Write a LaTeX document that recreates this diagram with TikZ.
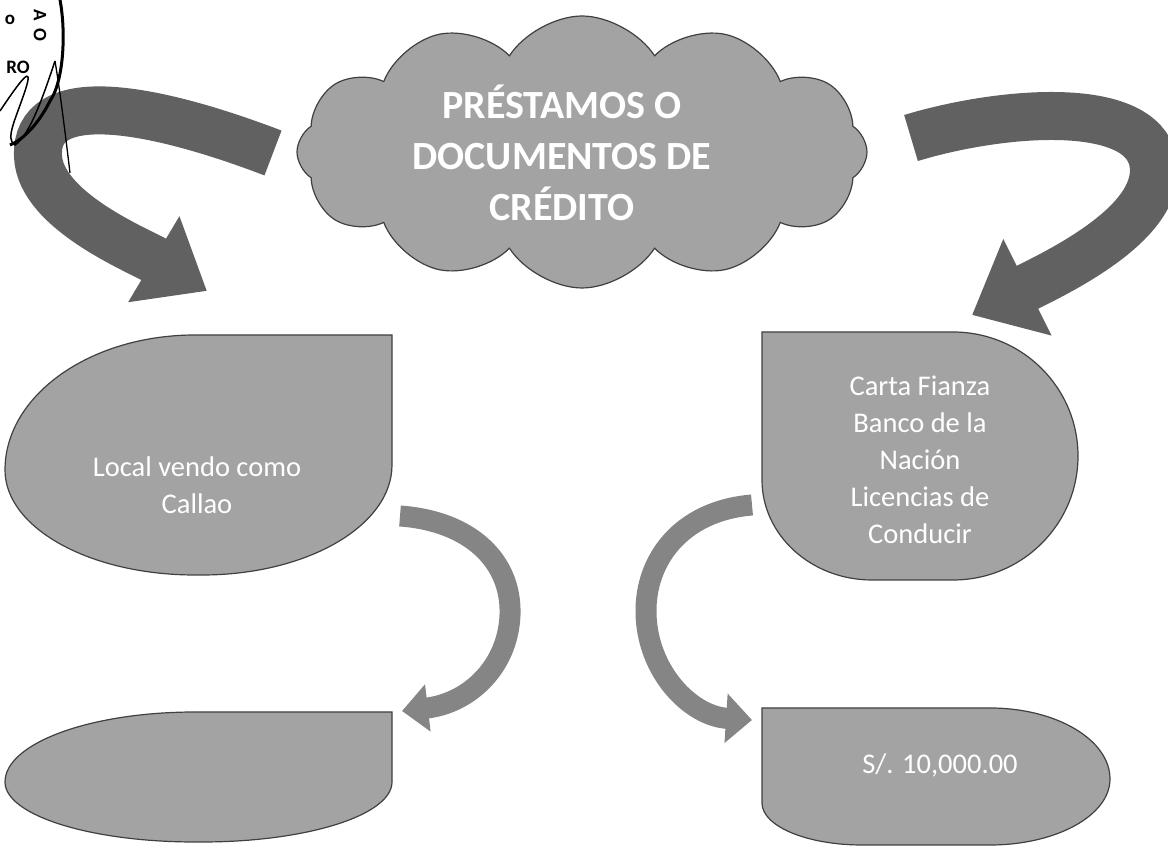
\documentclass[tikz,border=0pt]{standalone}
\usepackage{fontspec}
\setmainfont{Carlito}
\usetikzlibrary{shapes.symbols,arrows.meta}
\tikzset{
  shapebox/.style={fill=black!36, draw=black!75, line width=1.2pt},
  bigarrow/.style={draw=black!62, line width=48pt},
  smallarrow/.style={draw=black!48, line width=21pt},
  wtext/.style={text=white, align=center, font=\fontsize{28.5}{37}\selectfont},
  stamptext/.style={font=\bfseries\fontsize{19}{19}\selectfont, inner sep=1pt},
}
\begin{document}
\begin{tikzpicture}[x=1pt,y=1pt]
\useasboundingbox (0,0) rectangle (1168,851);
% cloud
\node[cloud, cloud puffs=12, cloud puff arc=115, aspect=2.1, minimum width=570pt, minimum height=272pt, shapebox, inner sep=0pt] (cloud) at (582,699) {};
\node[text=white, align=center, font=\bfseries\fontsize{40}{51}\selectfont] (cloudtext) at (562,698) {PRÉSTAMOS O\\DOCUMENTOS DE\\CRÉDITO};
% left top node
\draw[shapebox] (392,516) -- (195,516) arc[start angle=90,end angle=180,x radius=190,y radius=135]
  arc[start angle=180,end angle=270,x radius=190,y radius=105] -- (202,276)
  arc[start angle=270,end angle=360,x radius=190,y radius=110] -- cycle;
\node[wtext] (lefttop) at (197,366) {Local vendo como\\Callao};
% right top node
\draw[shapebox] (762,519) -- (953,519) arc[start angle=90,end angle=0,x radius=125,y radius=124]
  arc[start angle=0,end angle=-90,x radius=125,y radius=124] -- (872,271)
  arc[start angle=270,end angle=180,x radius=110,y radius=100] -- cycle;
\node[wtext] (righttop) at (920,391) {Carta Fianza\\Banco de la\\Nación\\Licencias de\\Conducir};
% bottom left node
\draw[shapebox] (392,139) -- (195,139) arc[start angle=90,end angle=180,x radius=190,y radius=70]
  arc[start angle=180,end angle=270,x radius=190,y radius=60] -- (202,9)
  arc[start angle=270,end angle=360,x radius=190,y radius=60] -- cycle;
\coordinate (leftbottom) at (197,74);
% bottom right node
\draw[shapebox] (762,143) -- (990,143) arc[start angle=90,end angle=0,x radius=120,y radius=71]
  arc[start angle=0,end angle=-90,x radius=120,y radius=66] -- (862,6)
  arc[start angle=270,end angle=180,x radius=100,y radius=42] -- cycle;
\node[wtext] (rightbottom) at (940,86) {S/. 10,000.00};
% arrows
\coordinate (a1s) at (273,698);
\coordinate (a1e) at (207,560);
\draw[bigarrow, -{Triangle[length=62pt,width=96pt]}] (a1s) .. controls (150,745) and (35,765) .. (38,695)
  .. controls (40,640) and (140,600) .. (a1e);
\coordinate (a2s) at (911,713);
\coordinate (a2e) at (972,536);
\draw[bigarrow, -{Triangle[length=62pt,width=104pt]}] (a2s) .. controls (1000,740) and (1140,752) .. (1153,690)
  .. controls (1165,630) and (1060,580) .. (a2e);
\coordinate (a3s) at (400,335);
\coordinate (a3e) at (402,140);
\draw[smallarrow, -{Triangle[length=26pt,width=46pt]}] (a3s) .. controls (470,330) and (512,290) .. (510,236)
  .. controls (508,185) and (470,148) .. (a3e);
\coordinate (a4s) at (752,346);
\coordinate (a4e) at (752,131);
\draw[smallarrow, -{Triangle[length=26pt,width=48pt]}] (a4s) .. controls (680,340) and (645,290) .. (646,238)
  .. controls (647,180) and (690,135) .. (a4e);
% stamp fragment
\draw[line width=3pt] (60,851) .. controls (66,820) and (64,770) .. (50,750) .. controls (40,730) and (25,712) .. (10,706);
\node[stamptext, rotate=-90] (stampA) at (40,836) {A};
\node[stamptext, rotate=-90] (stampO) at (40,816) {O};
\node[stamptext] (stampo) at (10,831) {o};
\node[stamptext] (stampR) at (18,784) {RO};
\draw[line width=1.3pt] (55,790) .. controls (60,760) and (65,720) .. (70,678);
\draw[line width=1.5pt] (0,740) .. controls (20,770) and (35,790) .. (25,760) .. controls (15,730) and (5,712) .. (15,706) .. controls (30,715) and (45,760) .. (55,790);
\end{tikzpicture}
\end{document}
